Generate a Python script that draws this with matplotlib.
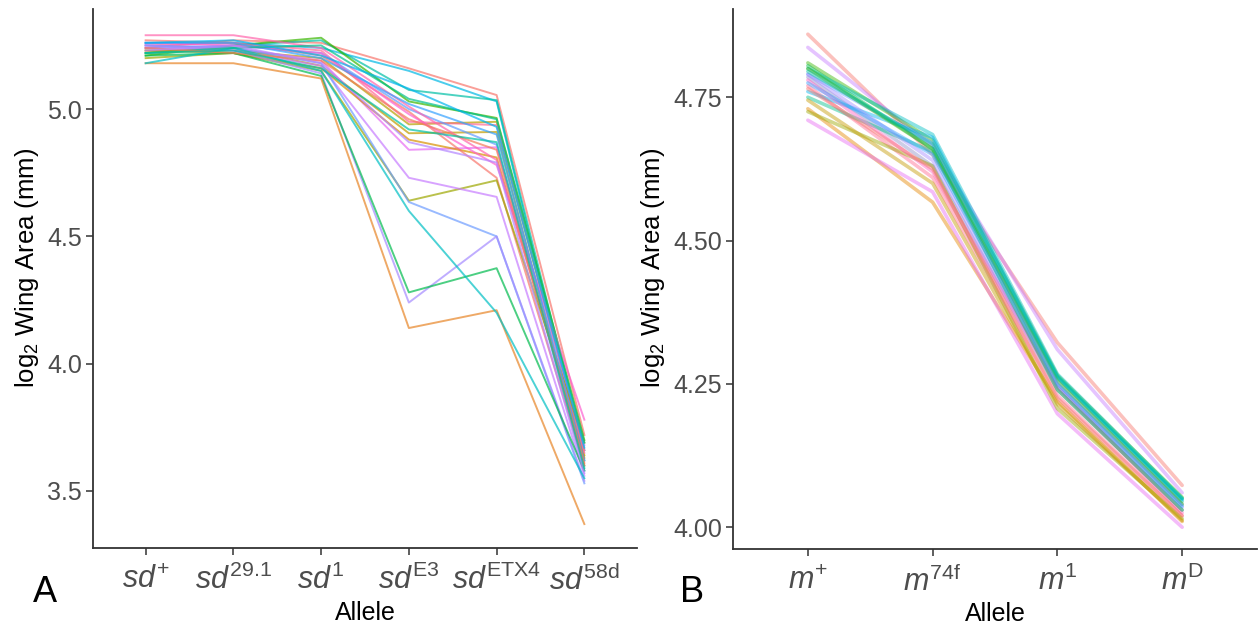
import matplotlib
import numpy as np

matplotlib.use('Agg')
import matplotlib.pyplot as plt

plt.rcParams['font.family'] = ['Liberation Sans', 'DejaVu Sans']
plt.rcParams['mathtext.fontset'] = 'custom'
plt.rcParams['mathtext.rm'] = 'Liberation Sans'
plt.rcParams['mathtext.it'] = 'Liberation Sans:italic'

# --- scalloped (sd) alleles, one value per DGRP line for each allele ---
sd_alleles = [r'$\mathit{sd}^{+}$', r'$\mathit{sd}^{\mathrm{29.1}}$', r'$\mathit{sd}^{\mathrm{1}}$',
              r'$\mathit{sd}^{\mathrm{E3}}$', r'$\mathit{sd}^{\mathrm{ETX4}}$', r'$\mathit{sd}^{\mathrm{58d}}$']
sd_plus = [5.24, 5.26, 5.22, 5.21, 5.23, 5.25, 5.22, 5.24, 5.25, 5.23, 5.27, 5.20, 5.24,
           5.25, 5.25, 5.21, 5.18, 5.18, 5.26, 5.29, 5.26, 5.22, 5.24, 5.26, 5.23, 5.22]
sd_29_1 = [5.27, 5.26, 5.25, 5.25, 5.23, 5.26, 5.24, 5.25, 5.24, 5.22, 5.26, 5.22, 5.23,
           5.24, 5.23, 5.22, 5.18, 5.24, 5.25, 5.29, 5.26, 5.24, 5.22, 5.27, 5.25, 5.23]
sd_1 = [5.26, 5.24, 5.27, 5.28, 5.20, 5.23, 5.17, 5.22, 5.19, 5.16, 5.21, 5.15, 5.17,
        5.18, 5.14, 5.13, 5.12, 5.15, 5.22, 5.24, 5.20, 5.25, 5.19, 5.21, 5.18, 5.16]
sd_e3 = [5.16, 5.15, 5.075, 5.03, 4.94, 4.95, 4.905, 5.00, 4.84, 4.88, 4.99, 4.64, 4.73,
         4.635, 4.24, 4.28, 4.14, 4.60, 4.98, 5.01, 5.02, 5.04, 4.96, 5.08, 4.87, 4.92]
sd_etx4 = [5.055, 5.03, 5.035, 4.965, 4.95, 4.937, 4.91, 4.86, 4.85, 4.81, 4.73, 4.72, 4.655,
           4.50, 4.50, 4.375, 4.21, 4.20, 4.78, 4.80, 4.90, 4.96, 4.84, 4.93, 4.79, 4.87]
sd_58d = [3.72, 3.62, 3.66, 3.70, 3.64, 3.66, 3.60, 3.58, 3.68, 3.63, 3.60, 3.69, 3.56,
          3.53, 3.54, 3.58, 3.37, 3.55, 3.78, 3.65, 3.62, 3.69, 3.61, 3.67, 3.57, 3.59]
sd_colors = ['#F8766D', '#00B8E5', '#00BFA6', '#39B600', '#B79F00', '#FF6A98', '#C09B00',
             '#619CFF', '#E76BF3', '#D89000', '#F8766D', '#9DA700', '#C77CFF', '#6E9DFF',
             '#A58AFF', '#00BB4E', '#E88526', '#00BFC4', '#FD61D1', '#FF65AC', '#35A2FF',
             '#00C08B', '#F37B59', '#00B4EF', '#B385FF', '#00C1A3']

# --- mirror (m) alleles ---
m_alleles = [r'$\mathit{m}^{+}$', r'$\mathit{m}^{\mathrm{74f}}$', r'$\mathit{m}^{\mathrm{1}}$',
             r'$\mathit{m}^{\mathrm{D}}$']
m_plus = [4.86, 4.837, 4.81, 4.80, 4.79, 4.785, 4.77, 4.75, 4.73, 4.71,
          4.725, 4.76, 4.80, 4.78, 4.79, 4.805, 4.765, 4.775, 4.745, 4.795]
m_74f = [4.65, 4.665, 4.675, 4.685, 4.67, 4.63, 4.61, 4.655, 4.567, 4.585,
         4.63, 4.68, 4.66, 4.62, 4.64, 4.66, 4.625, 4.65, 4.60, 4.668]
m_1 = [4.322, 4.31, 4.265, 4.267, 4.25, 4.24, 4.23, 4.262, 4.22, 4.198,
       4.207, 4.26, 4.255, 4.245, 4.245, 4.24, 4.225, 4.25, 4.215, 4.263]
m_d = [4.073, 4.06, 4.052, 4.05, 4.04, 4.03, 4.02, 4.045, 4.01, 4.0,
       4.015, 4.048, 4.04, 4.025, 4.035, 4.03, 4.02, 4.037, 4.012, 4.05]
m_colors = ['#F8766D', '#C77CFF', '#39B600', '#00BFC4', '#619CFF', '#8F91C8', '#FF6C91',
            '#00C08B', '#E58700', '#E76BF3', '#9DA700', '#00B4EF', '#53B400', '#FF61C3',
            '#A58AFF', '#00BB4E', '#F8766D', '#35A2FF', '#C49A00', '#00C1A3']


def style_axes(ax):
    for side in ('top', 'right'):
        ax.spines[side].set_visible(False)
    for side in ('left', 'bottom'):
        ax.spines[side].set_color('#333333')
        ax.spines[side].set_linewidth(1.3)
    ax.tick_params(colors='#333333', width=1.1, length=5, labelcolor='#4D4D4D')
    ax.tick_params(axis='y', labelsize=18, pad=3)
    ax.tick_params(axis='x', labelsize=22, pad=7)
    ax.set_xlabel('Allele', fontsize=18, color='black', labelpad=3)
    ax.set_ylabel(r'log$_2$ Wing Area (mm)', fontsize=18.5, color='black')


fig = plt.figure(figsize=(12.58, 6.26), dpi=100)

# panel A: scalloped
ax = fig.add_axes([93 / 1258, 78 / 626, 544 / 1258, 539 / 626])
sd_vals = np.array([sd_plus, sd_29_1, sd_1, sd_e3, sd_etx4, sd_58d])
x = np.arange(1, len(sd_alleles) + 1)
for i in range(sd_vals.shape[1]):
    ax.plot(x, sd_vals[:, i], color=sd_colors[i], lw=1.4, alpha=0.7)
ax.set_xlim(0.4, len(sd_alleles) + 0.6)
ax.set_ylim(3.276, 5.393)
ax.set_xticks(x)
ax.set_xticklabels(sd_alleles)
ax.set_yticks([3.5, 4.0, 4.5, 5.0])
ax.set_yticklabels(['3.5', '4.0', '4.5', '5.0'])
style_axes(ax)
ax.yaxis.set_label_coords(-0.096, 0.52)

# panel B: mirror
ax = fig.add_axes([733 / 1258, 77 / 626, 524 / 1258, 540 / 626])
m_vals = np.array([m_plus, m_74f, m_1, m_d])
x = np.arange(1, len(m_alleles) + 1)
for i in range(m_vals.shape[1]):
    ax.plot(x, m_vals[:, i], color=m_colors[i], lw=2.6, alpha=0.45,
            solid_joinstyle='round', solid_capstyle='round')
ax.set_xlim(0.4, len(m_alleles) + 0.6)
ax.set_ylim(3.962, 4.904)
ax.set_xticks(x)
ax.set_xticklabels(m_alleles)
ax.set_yticks([4.0, 4.25, 4.5, 4.75])
ax.set_yticklabels(['4.00', '4.25', '4.50', '4.75'])
style_axes(ax)
ax.yaxis.set_label_coords(-0.126, 0.52)

fig.text(45 / 1258, 1 - 592 / 626, 'A', fontsize=26, ha='center', va='center')
fig.text(692 / 1258, 1 - 592 / 626, 'B', fontsize=26, ha='center', va='center')

fig.savefig('out.png', dpi=100)
